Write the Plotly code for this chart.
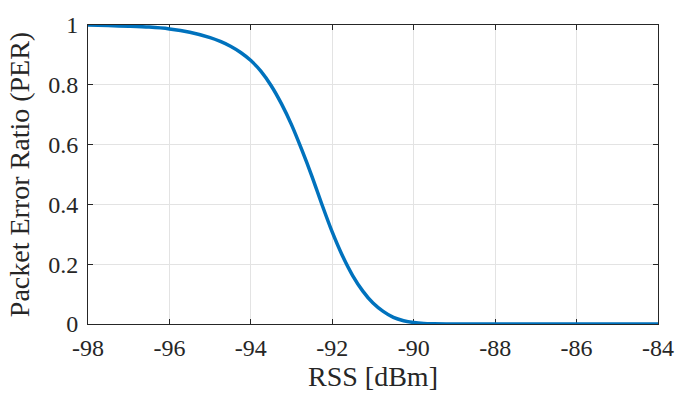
import plotly.graph_objects as go

rss_dbm = [-98, -97.5, -97, -96.5, -96, -95.5, -95, -94.75, -94.5, -94.25, -94,
           -93.75, -93.5, -93.25, -93, -92.75, -92.5, -92.25, -92, -91.75, -91.5,
           -91.25, -91, -90.75, -90.5, -90.25, -90, -89.75, -89.5, -89, -88, -87,
           -86, -85, -84]
per = [1.0, 0.998, 0.996, 0.993, 0.987, 0.976, 0.958, 0.945, 0.929, 0.908, 0.881,
       0.845, 0.797, 0.737, 0.666, 0.583, 0.494, 0.398, 0.307, 0.228, 0.162,
       0.11, 0.07, 0.042, 0.022, 0.011, 0.005, 0.002, 0.001, 0.0, 0.0, 0.0,
       0.0, 0.0, 0.0]

x_ticks = [-98, -96, -94, -92, -90, -88, -86, -84]
x_tick_labels = ["-98", "-96", "-94", "-92", "-90", "-88", "-86", "-84"]
y_ticks = [0, 0.2, 0.4, 0.6, 0.8, 1]
y_tick_labels = ["0", "0.2", "0.4", "0.6", "0.8", "1"]

font_family = "Liberation Serif, Times New Roman, serif"
axis_col = "#262626"
grid_col = "#e3e3e3"

fig = go.Figure()
fig.add_trace(go.Scatter(
    x=rss_dbm, y=per, mode="lines",
    line=dict(color="#0072BD", width=3.5, shape="spline", smoothing=0.8),
    showlegend=False, hoverinfo="skip",
))

common = dict(
    showline=True, linecolor=axis_col, linewidth=1, mirror="ticks",
    ticks="inside", ticklen=5, tickwidth=1, tickcolor=axis_col,
    showgrid=True, gridcolor=grid_col, gridwidth=1, zeroline=False,
    tickfont=dict(family=font_family, size=24, color=axis_col),
    layer="below traces",
)

fig.update_xaxes(
    range=[-98, -84], tickvals=x_ticks, ticktext=x_tick_labels,
    title=dict(text="RSS [dBm]", font=dict(family=font_family, size=28, color=axis_col), standoff=4),
    ticklabelstandoff=2,
    **common,
)
fig.update_yaxes(
    range=[0, 1], tickvals=y_ticks, ticktext=y_tick_labels,
    title=dict(text="Packet Error Ratio (PER)", font=dict(family=font_family, size=28, color=axis_col), standoff=10),
    ticklabelstandoff=4,
    **common,
)

fig.update_layout(
    width=686, height=396,
    margin=dict(l=88, r=18, t=21, b=69),
    paper_bgcolor="white", plot_bgcolor="white",
)

fig.write_html("out.html")
